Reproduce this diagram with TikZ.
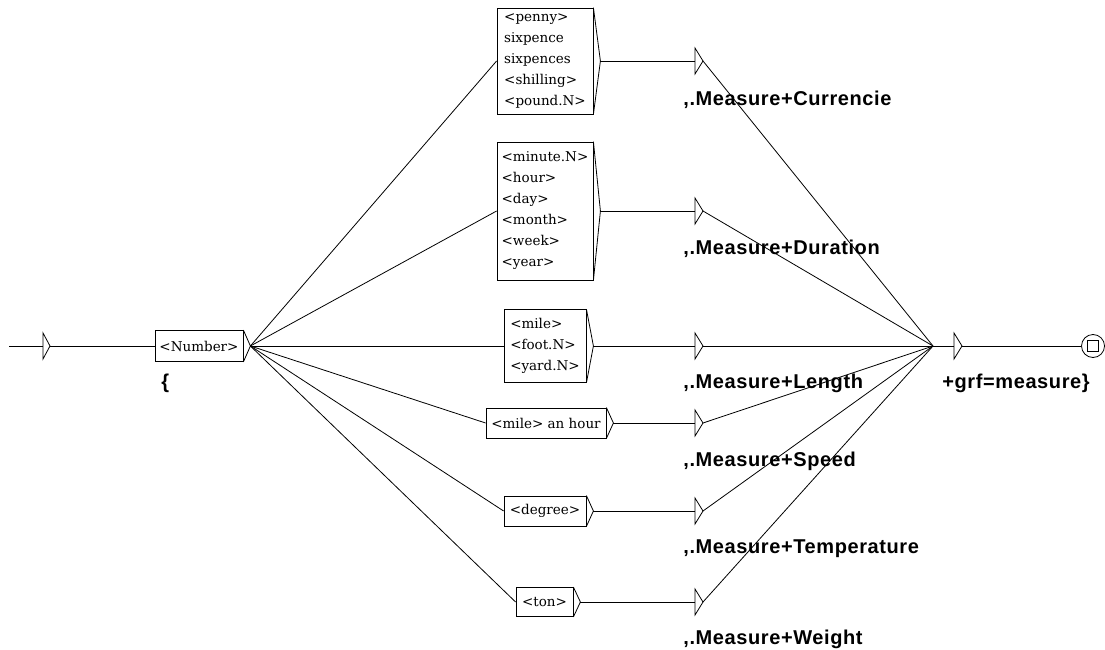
\documentclass[tikz,border=0pt]{standalone}
\usepackage{fontspec}
\newfontfamily\boitefont{DejaVu Serif}
\newfontfamily\sortiefont[LetterSpace=3]{Liberation Sans}

\begin{document}
\begin{tikzpicture}[x=1pt,y=-1pt,line width=0.8pt,
  boite/.style={draw,rectangle,align=left,inner xsep=3pt,inner ysep=2pt,
    font=\boitefont\fontsize{13.5}{21}\selectfont},
  sortie/.style={anchor=base west,inner sep=0pt,
    font=\sortiefont\bfseries\fontsize{20}{24}\selectfont}]
\useasboundingbox (0,0) rectangle (1105,650);

%etat initial
\coordinate (debut) at (9,346);
\coordinate (init) at (43,346);
\coordinate (initp) at (50,346);
\draw (debut) -- (init);
\draw (init) ++(0,-13) -- (initp) -- ++(-7,13) -- cycle;

%boites
\node[boite,minimum width=88,minimum height=31] (num) at (199,346) {<Number>};
\node[boite,minimum width=96,minimum height=106] (cur) at (545,61)
  {<penny>\\sixpence\\sixpences\\<shilling>\\<pound.N>};
\node[boite,minimum width=96,minimum height=138] (dur) at (545,211)
  {<minute.N>\\<hour>\\<day>\\<month>\\<week>\\<year>};
\node[boite,minimum width=82,minimum height=73] (len) at (545,346)
  {<mile>\\<foot.N>\\<yard.N>};
\node[boite,minimum width=120,minimum height=30] (spd) at (546,423) {<mile> an hour};
\node[boite,minimum width=82,minimum height=30] (deg) at (545,511) {<degree>};
\node[boite,minimum width=57,minimum height=29] (ton) at (544.5,602) {<ton>};

%triangles des boites
\foreach \n in {num,cur,dur,len,spd,deg,ton}{
  \coordinate (\n-p) at ([xshift=7pt]\n.east);
  \draw (\n.north east) -- (\n-p) -- (\n.south east);
}

%sorties
\foreach \n/\y in {cur/61,dur/211,len/346,spd/423,deg/511,ton/602}{
  \coordinate (s\n) at (695,\y);
  \coordinate (t\n) at (703,\y);
  \draw (s\n) ++(0,-13) -- (t\n) -- ++(-8,13) -- cycle;
}

%transitions
\draw (initp) -- (num.west);
\foreach \n in {cur,dur,len,spd,deg,ton}{
  \draw (num-p) -- (\n.west);
  \draw (\n-p) -- (s\n);
}

%boite finale
\coordinate (fin) at (933,346);
\coordinate (sfin) at (954,346);
\coordinate (tfin) at (962,346);
\foreach \n in {cur,dur,len,spd,deg,ton}
  \draw (t\n) -- (fin);
\draw (fin) -- (sfin);
\draw (sfin) ++(0,-13) -- (tfin) -- ++(-8,13) -- cycle;

%etat final
\node[draw,circle,minimum size=23,inner sep=0pt] (etat) at (1093,346) {};
\node[draw,minimum size=11,inner sep=0pt] (carre) at (etat) {};
\draw (tfin) -- (etat);

%sorties (textes)
\node[sortie] (lnum) at (161,388) {\{};
\node[sortie] (lcur) at (683,106) {,.Measure+Currencie};
\node[sortie] (ldur) at (683,254) {,.Measure+Duration};
\node[sortie] (llen) at (683,388) {,.Measure+Length};
\node[sortie] (lspd) at (683,466) {,.Measure+Speed};
\node[sortie] (ldeg) at (683,553) {,.Measure+Temperature};
\node[sortie] (lton) at (683,644) {,.Measure+Weight};
\node[sortie] (lfin) at (942,388) {+grf=measure\}};
\end{tikzpicture}
\end{document}
